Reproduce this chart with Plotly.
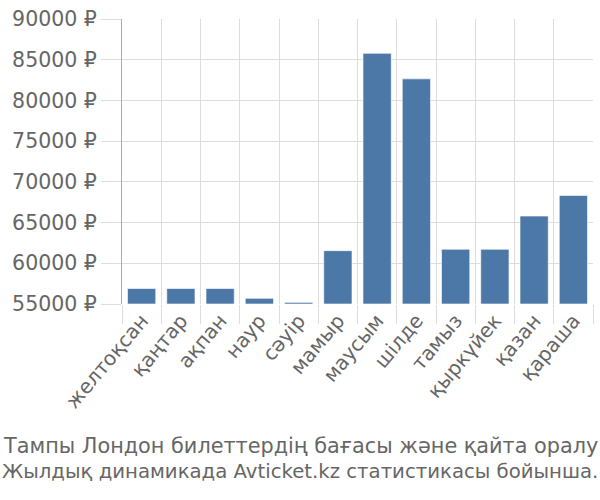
import plotly.graph_objects as go

months = ["желтоқсан", "қаңтар", "ақпан", "наур", "сәуір", "мамыр",
          "маусым", "шілде", "тамыз", "қыркүйек", "қазан", "қараша"]
prices = [56900, 56900, 56900, 55700, 55200, 61550,
          85780, 82650, 61720, 61720, 65800, 68330]
base_value = 55000
y_ticks = [55000, 60000, 65000, 70000, 75000, 80000, 85000, 90000]
y_tick_text = [f"{v} ₽" for v in y_ticks]
title_lines = ["Тампы Лондон билеттердің бағасы және қайта оралу",
               "Жылдық динамикада Avticket.kz статистикасы бойынша."]

font_family = "DejaVu Sans, Liberation Sans, sans-serif"
grey = "#666666"
fsize = 20

fig = go.Figure()
fig.add_trace(go.Bar(
    x=months,
    y=[p - base_value for p in prices],
    base=base_value,
    marker=dict(color="#4c78a8", line=dict(color="rgba(255,255,255,0.6)", width=1)),
    hoverinfo="skip",
))

fig.update_layout(
    width=600, height=500,
    margin=dict(l=122, r=7, t=14, b=196),
    paper_bgcolor="white", plot_bgcolor="white",
    bargap=0.28,
    showlegend=False,
    font=dict(family=font_family, color=grey, size=fsize),
    xaxis=dict(
        tickangle=-50,
        tickson="boundaries",
        ticks="outside", ticklen=19, tickcolor="#dddddd", tickwidth=1,
        showgrid=True, gridcolor="#dddddd", gridwidth=1,
        showline=False, zeroline=False,
        tickfont=dict(size=fsize, color=grey, family=font_family),
    ),
    yaxis=dict(
        range=[55000, 90000],
        tickvals=y_ticks, ticktext=y_tick_text,
        ticks="outside", ticklen=20, tickcolor="#dddddd", tickwidth=1,
        showgrid=True, gridcolor="#dddddd", gridwidth=1,
        showline=True, linecolor="#aaaaaa", linewidth=1,
        zeroline=False,
        tickfont=dict(size=20.5, color=grey, family=font_family),
    ),
)

# title lines placed below the chart (pixel centres converted to paper coords; plot area 14..304 px)
for line, px, sz in zip(title_lines, [448, 474], [20.8, 19.7]):
    fig.add_annotation(
        text=line, xref="paper", yref="paper",
        x=(300 - 122) / 471.0, y=(304 - px) / 290.0,
        xanchor="center", yanchor="middle", showarrow=False,
        font=dict(size=sz, color=grey, family=font_family),
    )

fig.write_html("out.html")
